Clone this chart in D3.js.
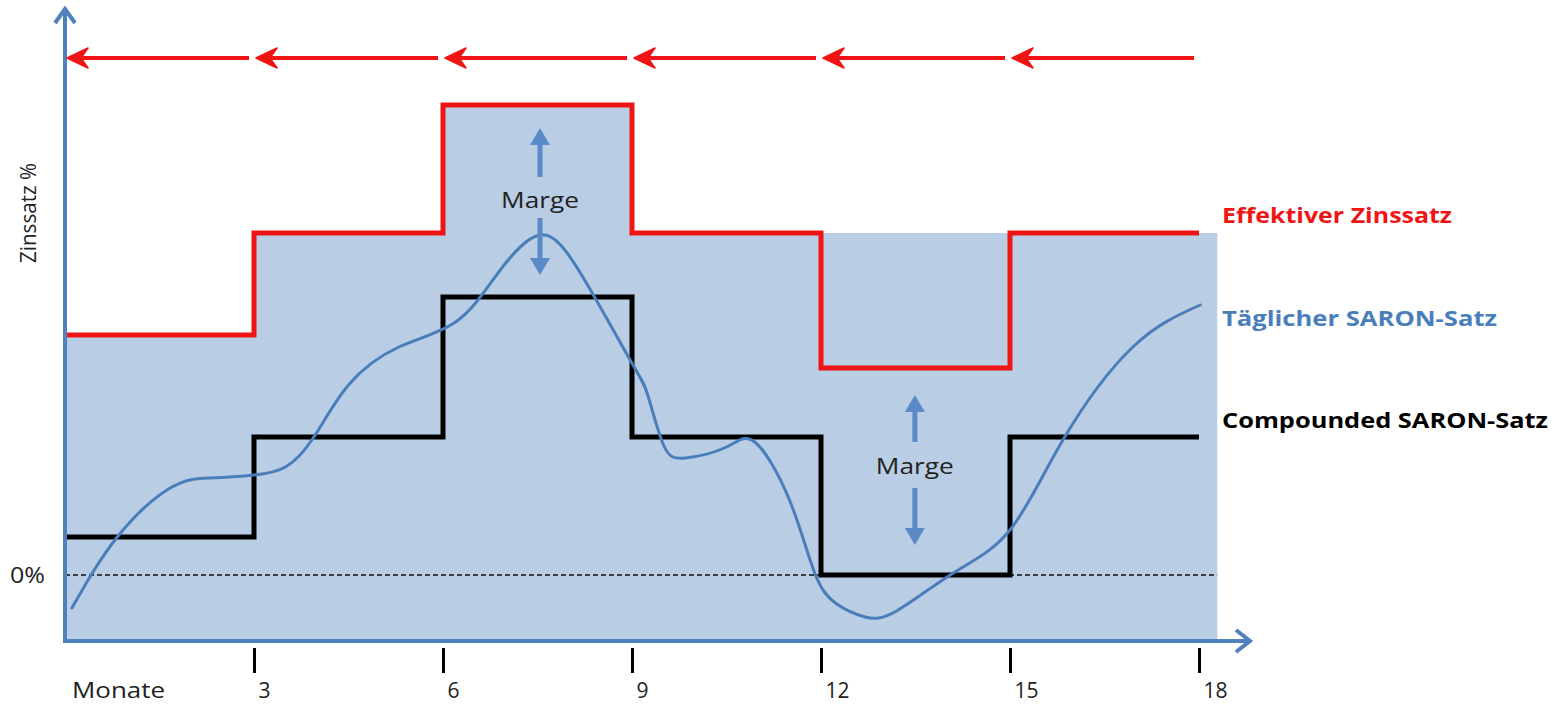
<!DOCTYPE html>
<html>
<head>
<meta charset="utf-8">
<script src="https://cdn.jsdelivr.net/npm/d3@7"></script>
<style>
  html, body { margin: 0; padding: 0; background: #ffffff; }
  svg { display: block; font-family: "Open Sans", "DejaVu Sans", sans-serif; }
</style>
</head>
<body>
<svg id="chart" width="1555" height="704"></svg>
<script>
// ---------------- data ----------------
const periodStarts   = [0, 3, 6, 9, 12, 15];          // Monate (Beginn jeder Zinsperiode)
const periodEnd      = 18;
const tickMonths     = [3, 6, 9, 12, 15, 18];
const tickLabels     = ["3", "6", "9", "12", "15", "18"];
const compounded     = [0.38, 1.38, 2.78, 1.38, 0.00, 1.38];   // Compounded SARON-Satz
const effektiv       = [2.40, 3.42, 4.70, 3.42, 2.07, 3.42];   // Effektiver Zinssatz
const shaded         = [2.40, 3.42, 4.70, 3.42, 3.42, 3.42];   // hinterlegte Fläche
const shadedEndMonth = 18.29;
const saronMonths = [0.11, 0.83, 1.67, 2.30, 3.00, 3.50, 3.94, 4.50, 5.30, 6.20, 6.85, 7.54, 8.20, 8.97,
                     9.25, 9.50, 9.85, 10.50, 10.95, 11.50, 11.90, 12.25, 12.70, 13.20, 14.10, 15.00,
                     15.84, 16.95, 18.02];
const saronValues = [-0.33, 0.38, 0.87, 0.97, 1.00, 1.08, 1.37, 1.90, 2.28, 2.53, 3.00, 3.40, 3.00, 2.15,
                     1.80, 1.30, 1.17, 1.28, 1.33, 0.75, 0.02, -0.29, -0.42, -0.36, 0.02, 0.45,
                     1.35, 2.28, 2.70];
const margeMonths   = [7.54, 13.49];
const margeUpTip    = [4.47, 1.80];
const margeUpTail   = [3.98, 1.33];
const margeText     = [3.67, 1.01];
const margeDownTail = [3.57, 0.87];
const margeDownTip  = [3.00, 0.30];
const legendLabels  = ["Effektiver Zinssatz", "Täglicher SARON-Satz", "Compounded SARON-Satz"];
const legendValues  = [3.52, 2.49, 1.47];

// ---------------- scales ----------------
const svg = d3.select("#chart");
const x = d3.scaleLinear().domain([0, 18]).range([65, 1199]);
const y = d3.scaleLinear().domain([-0.68, 5.67]).range([643, 8]);

const RED = "#f01414", BLUE = "#4a7ebb", AXIS = "#4f81bd", FILL = "#b9cde4";

// ---------------- shaded area ----------------
const shadePts = periodStarts.map((m, i) => [m, shaded[i]]).concat([[shadedEndMonth, shaded[shaded.length - 1]]]);
svg.append("path")
  .attr("d", d3.area().curve(d3.curveStepAfter)
    .x(d => x(d[0])).y0(y(-0.68)).y1(d => y(d[1]))(shadePts))
  .attr("fill", FILL);

// 0% dashed line
svg.append("line")
  .attr("x1", x(0)).attr("x2", x(shadedEndMonth))
  .attr("y1", y(0)).attr("y2", y(0))
  .attr("stroke", "#111").attr("stroke-width", 1.4).attr("stroke-dasharray", "5,3");

// step lines
const stepLine = d3.line().curve(d3.curveStepAfter).x(d => x(d[0])).y(d => y(d[1]));
function stepPts(vals) {
  return periodStarts.map((m, i) => [m, vals[i]]).concat([[periodEnd, vals[vals.length - 1]]]);
}
svg.append("path").attr("d", stepLine(stepPts(compounded)))
  .attr("fill", "none").attr("stroke", "#000").attr("stroke-width", 5).attr("stroke-linejoin", "miter");
svg.append("path").attr("d", stepLine(stepPts(effektiv)))
  .attr("fill", "none").attr("stroke", RED).attr("stroke-width", 5).attr("stroke-linejoin", "miter");

// daily SARON curve
svg.append("path")
  .attr("d", d3.line().curve(d3.curveNatural)
    .x((d, i) => x(saronMonths[i])).y(d => y(d))(saronValues))
  .attr("fill", "none").attr("stroke", BLUE).attr("stroke-width", 3).attr("stroke-linecap", "round");

// ---------------- axes ----------------
const ax = svg.append("g");
ax.append("line").attr("x1", x(0)).attr("x2", 1247).attr("y1", 641).attr("y2", 641)
  .attr("stroke", AXIS).attr("stroke-width", 4);
ax.append("path").attr("d", "M1236,630 L1250,641 L1236,652")
  .attr("fill", "none").attr("stroke", AXIS).attr("stroke-width", 4).attr("stroke-linejoin", "miter");
ax.append("line").attr("x1", x(0)).attr("x2", x(0)).attr("y1", 643).attr("y2", 10)
  .attr("stroke", AXIS).attr("stroke-width", 4);
ax.append("path").attr("d", "M55,23 L65,9 L75,23")
  .attr("fill", "none").attr("stroke", AXIS).attr("stroke-width", 4).attr("stroke-linejoin", "miter");

const xAxis = d3.axisBottom(x).tickValues(tickMonths).tickFormat((d, i) => tickLabels[i])
  .tickSizeInner(25).tickSizeOuter(0);
const gx = svg.append("g").attr("transform", "translate(0,648)").call(xAxis);
gx.select(".domain").remove();
gx.selectAll(".tick line").attr("stroke", "#000").attr("stroke-width", 3);
gx.selectAll(".tick text").attr("y", 50).attr("dy", 0).attr("x", 4).attr("text-anchor", "start")
  .attr("font-size", 21).attr("fill", "#222").attr("font-family", "Open Sans");

svg.append("text").attr("x", 72).attr("y", 698).attr("font-size", 22).attr("fill", "#222")
  .attr("textLength", 93).attr("lengthAdjust", "spacingAndGlyphs").text("Monate");
svg.append("text").attr("x", 10).attr("y", 583).attr("font-size", 21).attr("fill", "#222")
  .attr("textLength", 35).attr("lengthAdjust", "spacingAndGlyphs").text("0%");
svg.append("text").attr("transform", "translate(36,213) rotate(-90)")
  .attr("text-anchor", "middle").attr("font-size", 22).attr("fill", "#222")
  .attr("textLength", 100).attr("lengthAdjust", "spacingAndGlyphs").text("Zinssatz %");

// ---------------- top arrows (backward-looking) ----------------
const topV = 5.17;
const ta = svg.append("g");
periodStarts.forEach(m => {
  const xt = x(m) + 2, xr = x(m + 3) - 5, yy = y(topV);
  ta.append("line").attr("x1", xt + 8).attr("x2", xr).attr("y1", yy).attr("y2", yy)
    .attr("stroke", RED).attr("stroke-width", 4);
  ta.append("path")
    .attr("d", `M${xt},${yy} L${xt + 21},${yy - 10} L${xt + 14},${yy} L${xt + 21},${yy + 10} Z`)
    .attr("fill", RED).attr("stroke", RED).attr("stroke-width", 1.5).attr("stroke-linejoin", "round");
});

// ---------------- Marge annotations ----------------
const MA = "#5a8bc8";
function vArrow(xm, vTail, vTip) {
  const xx = x(xm), yt = y(vTip), yb = y(vTail);
  const dir = yt < yb ? 1 : -1; // 1 = points up
  const head = 17;
  svg.append("line").attr("x1", xx).attr("x2", xx).attr("y1", yb).attr("y2", yt + dir * head)
    .attr("stroke", MA).attr("stroke-width", 5);
  svg.append("path")
    .attr("d", `M${xx},${yt} L${xx - 10},${yt + dir * head} L${xx + 10},${yt + dir * head} Z`)
    .attr("fill", MA);
}
margeMonths.forEach((m, i) => {
  vArrow(m, margeUpTail[i], margeUpTip[i]);
  vArrow(m, margeDownTail[i], margeDownTip[i]);
  svg.append("text").attr("x", x(m)).attr("y", y(margeText[i]))
    .attr("text-anchor", "middle").attr("font-size", 22).attr("fill", "#222")
    .attr("textLength", 78).attr("lengthAdjust", "spacingAndGlyphs").text("Marge");
});

// ---------------- legend labels ----------------
const legendColors = [RED, BLUE, "#000"];
const legendWidths = [230, 275, 326];
legendLabels.forEach((t, i) => {
  svg.append("text").attr("x", 1222).attr("y", y(legendValues[i]))
    .attr("font-size", 21).attr("font-weight", "bold").attr("fill", legendColors[i])
    .attr("textLength", legendWidths[i]).attr("lengthAdjust", "spacingAndGlyphs").text(t);
});
</script>
</body>
</html>
